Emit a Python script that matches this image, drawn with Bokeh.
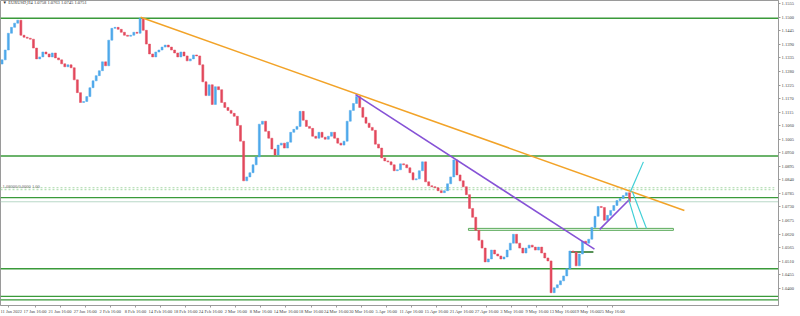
from bokeh.plotting import figure
from bokeh.models import FixedTicker, Label, Range1d, ColumnDataSource, PrintfTickFormatter
from bokeh.embed import file_html
from bokeh.resources import INLINE

# ---- data ----
first_open = 1.1310
closes = [
    1.1327, 1.1367, 1.1435, 1.1459, 1.1476, 1.1488, 1.1427, 1.1419, 1.1415, 1.1411,
    1.1375, 1.1331, 1.1339, 1.1359, 1.1351, 1.1339, 1.1355, 1.1335, 1.1327, 1.1311,
    1.1299, 1.1307, 1.1295, 1.1246, 1.1194, 1.1154, 1.1158, 1.1178, 1.1214, 1.1242,
    1.1263, 1.1283, 1.1319, 1.1303, 1.1407, 1.1455, 1.1459, 1.1451, 1.1439, 1.1427,
    1.1423, 1.1427, 1.1439, 1.1435, 1.1496, 1.1447, 1.1391, 1.1351, 1.1339, 1.1359,
    1.1367, 1.1379, 1.1387, 1.1379, 1.1367, 1.1355, 1.1339, 1.1359, 1.1343, 1.1323,
    1.1331, 1.1347, 1.1343, 1.1307, 1.1238, 1.1182, 1.1226, 1.1146, 1.1218, 1.1206,
    1.1154, 1.1134, 1.1122, 1.1110, 1.1098, 1.1061, 1.0997, 1.0836, 1.0852, 1.0869,
    1.0901, 1.0933, 1.1066, 1.1078, 1.1037, 1.1009, 1.0965, 1.0941, 1.0981, 1.0989,
    1.0969, 1.0993, 1.1033, 1.1045, 1.1057, 1.1118, 1.1082, 1.1057, 1.1049, 1.1017,
    1.1009, 1.1033, 1.1013, 1.1005, 1.1017, 1.1033, 1.1009, 1.0989, 1.0981, 1.0997,
    1.1078, 1.1122, 1.1150, 1.1178, 1.1134, 1.1094, 1.1070, 1.1053, 1.1041, 1.0985,
    1.0969, 1.0929, 1.0917, 1.0913, 1.0901, 1.0877, 1.0881, 1.0905, 1.0901, 1.0889,
    1.0869, 1.0840, 1.0844, 1.0877, 1.0913, 1.0832, 1.0816, 1.0812, 1.0808, 1.0796,
    1.0788, 1.0796, 1.0824, 1.0852, 1.0921, 1.0860, 1.0836, 1.0812, 1.0780, 1.0724,
    1.0688, 1.0635, 1.0595, 1.0563, 1.0507, 1.0519, 1.0555, 1.0539, 1.0531, 1.0519,
    1.0527, 1.0555, 1.0583, 1.0619, 1.0583, 1.0563, 1.0543, 1.0563, 1.0575, 1.0567,
    1.0555, 1.0567, 1.0543, 1.0523, 1.0511, 1.0382, 1.0402, 1.0414, 1.0430, 1.0450,
    1.0479, 1.0551, 1.0547, 1.0491, 1.0539, 1.0591, 1.0583, 1.0599, 1.0647, 1.0692,
    1.0732, 1.0728, 1.0676, 1.0696, 1.0716, 1.0736, 1.0756, 1.0764, 1.0776, 1.0788,
    1.0751,
]
bars_per_candle = 3  # 12-hour candles drawn on an H4 bar axis

x_tick_bars = [0, 25, 49, 73, 97, 121, 145, 169, 193, 217, 241, 265, 289, 313,
               337, 361, 385, 409, 433, 457, 481, 505, 529, 553, 577]
x_tick_labels = ["11 Jan 2022", "17 Jan 16:00", "21 Jan 16:00", "27 Jan 16:00",
                 "2 Feb 16:00", "8 Feb 16:00", "14 Feb 16:00", "18 Feb 16:00",
                 "24 Feb 16:00", "2 Mar 16:00", "8 Mar 16:00", "14 Mar 16:00",
                 "18 Mar 16:00", "24 Mar 16:00", "30 Mar 16:00", "5 Apr 16:00",
                 "11 Apr 16:00", "15 Apr 16:00", "21 Apr 16:00", "27 Apr 16:00",
                 "3 May 16:00", "9 May 16:00", "13 May 16:00", "19 May 16:00",
                 "25 May 16:00"]
y_ticks = [1.0400, 1.0455, 1.0510, 1.0565, 1.0620, 1.0675, 1.0730, 1.0785,
           1.0840, 1.0895, 1.0950, 1.1005, 1.1060, 1.1115, 1.1170, 1.1225,
           1.1280, 1.1335, 1.1390, 1.1445, 1.1500, 1.1555]

levels = [1.1496, 1.0937, 1.0768, 1.0479, 1.0367, 1.0353]
bid_price = 1.0751
dotted_levels = [1.0808, 1.0800]
zone_bars = [447.5, 643.5]
zone_prices = [1.0635, 1.0643]
short_seg_bars = [544, 567]
short_seg_price = 1.0547

orange_bars = [134, 654]
orange_prices = [1.1500, 1.0716]
purple_bars = [339.5, 568]
purple_prices = [1.1186, 1.0559]
purple2_bars = [573, 600.5]
purple2_prices = [1.0639, 1.0756]
cyan_lines = [
    ([602.4, 614.8], [1.0792, 1.0913]),
    ([600.5, 609.1], [1.0764, 1.0643]),
    ([604.3, 617.7], [1.0792, 1.0643]),
]
ohlc_title = "EURUSD,H4  1.0758 1.0763 1.0745 1.0751"

# ---- build ----
opens = [first_open] + closes[:-1]
xs = [bars_per_candle * i + bars_per_candle / 2 for i in range(len(closes))]
tops = [max(o, c) for o, c in zip(opens, closes)]
bots = [min(o, c) for o, c in zip(opens, closes)]
UP, DOWN = "#4ea8ea", "#e2485c"
cols = [UP if c >= o else DOWN for o, c in zip(opens, closes)]
src = ColumnDataSource(dict(x=xs, top=tops, bottom=bots, color=cols))

X_END = 744
p = figure(width=800, height=316, x_range=Range1d(0, X_END),
           y_range=Range1d(1.0330, 1.1568), y_axis_location="right",
           toolbar_location=None, output_backend="svg",
           min_border_left=0, min_border_top=0, min_border_right=22,
           min_border_bottom=8)
p.background_fill_color = "white"
p.border_fill_color = "white"
p.outline_line_color = "#9a9a9a"
p.xgrid.visible = False
p.ygrid.visible = False

FONT = "Liberation Sans Narrow"
FS = "4.5px"
GREEN = "#3a9a3a"

# horizontal levels
for lv in levels:
    p.line([0, X_END], [lv, lv], line_color=GREEN, line_width=1.4)
p.line([0, X_END], [bid_price, bid_price], line_color="#b8d8c8", line_width=1)
for lv in dotted_levels:
    p.line([0, X_END - 4], [lv, lv], line_color="#a8d8a8", line_width=1, line_dash="2 2")

# zone and short segment
p.quad(left=zone_bars[0], right=zone_bars[1], bottom=zone_prices[0], top=zone_prices[1],
       fill_color="#eef8ee", line_color="#5cab5c", line_width=1)
p.line(short_seg_bars, [short_seg_price, short_seg_price], line_color="#1f6e1f", line_width=1.5)

# candles
p.vbar(x="x", width=1.9, top="top", bottom="bottom", fill_color="color",
       line_color="color", line_width=0.5, source=src)

# trend lines
p.line(orange_bars, orange_prices, line_color="#f2a328", line_width=1.6)
p.line(purple_bars, purple_prices, line_color="#8652d6", line_width=1.6)
p.line(purple2_bars, purple2_prices, line_color="#8652d6", line_width=1.6)
for bx, py in cyan_lines:
    p.line(bx, py, line_color="#3fcfd6", line_width=1.2)

# axes
p.xaxis.ticker = FixedTicker(ticks=[b + 8 for b in x_tick_bars])
p.xaxis.major_label_overrides = {b + 8: t for b, t in zip(x_tick_bars, x_tick_labels)}
p.yaxis.ticker = FixedTicker(ticks=y_ticks)
p.yaxis.formatter = PrintfTickFormatter(format="%.4f")
for ax in (p.xaxis, p.yaxis):
    ax.major_label_text_font = FONT
    ax.major_label_text_font_size = FS
    ax.major_label_text_color = "#444444"
    ax.axis_line_color = "#9a9a9a"
    ax.major_tick_line_color = "#9a9a9a"
    ax.major_tick_in = 0
    ax.major_tick_out = 2
    ax.minor_tick_line_color = None
    ax.major_label_standoff = 1

# price tags on the right axis
for lv in levels:
    p.add_layout(Label(x=X_END, y=lv, text=f"{lv:.4f}", x_offset=1,
                       text_font=FONT, text_font_size=FS, text_color="white",
                       text_baseline="middle", background_fill_color=GREEN))
p.add_layout(Label(x=X_END, y=bid_price, text=f"{bid_price:.4f}", x_offset=1,
                   text_font=FONT, text_font_size=FS, text_color="white",
                   text_baseline="middle", background_fill_color="#111111"))

# title and order text
p.add_layout(Label(x=2, y=1.1558, text="\u25BC " + ohlc_title, text_font=FONT,
                   text_font_size=FS, text_color="#333333", text_baseline="middle"))
p.add_layout(Label(x=2, y=dotted_levels[0] + 0.0006, text="1.08000/0.0000 1.00",
                   text_font=FONT, text_font_size=FS, text_color="#666666",
                   text_baseline="middle"))

open("out.html", "w").write(file_html(p, INLINE))
